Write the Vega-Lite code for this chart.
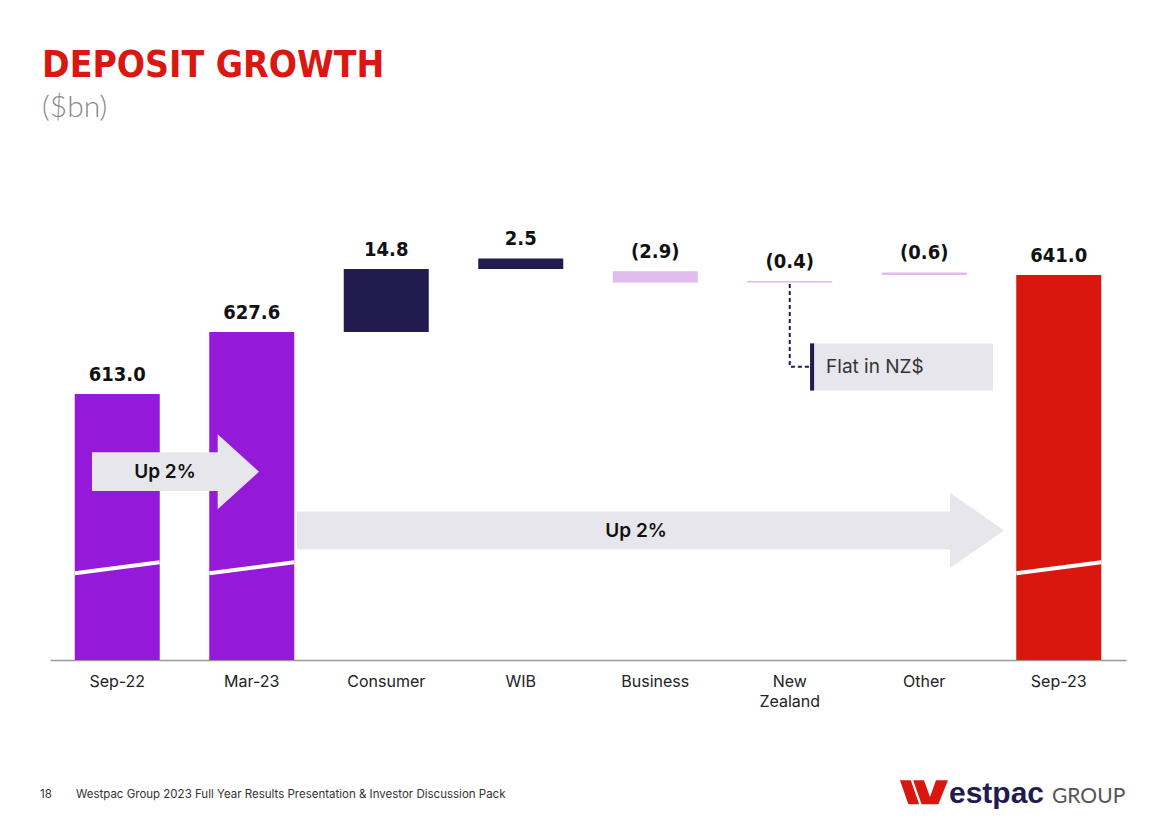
{
  "$schema": "https://vega.github.io/schema/vega-lite/v6.json",
  "width": 1076,
  "height": 510,
  "autosize": {"type": "none"},
  "padding": {"left": 50, "top": 150, "right": 42, "bottom": 165},
  "background": "white",
  "config": {"view": {"stroke": null}},
  "title": {
    "text": "DEPOSIT GROWTH",
    "subtitle": "($bn)",
    "anchor": "start",
    "frame": "group",
    "dx": -8,
    "offset": 26,
    "font": "Liberation Sans Narrow, DejaVu Sans Condensed, sans-serif",
    "fontSize": 37,
    "fontWeight": "bold",
    "color": "#DA1710",
    "subtitleFont": "Lato, sans-serif",
    "subtitleFontSize": 30,
    "subtitleFontWeight": 300,
    "subtitleColor": "#8A8A8A",
    "subtitlePadding": 8
  },
  "resolve": {"scale": {"x": "independent"}},
  "layer": [
    {
      "data": {
        "values": [
          {"cat": "Sep-22", "label": "613.0", "start": 0, "end": 613.0, "kind": "total"},
          {"cat": "Mar-23", "label": "627.6", "start": 0, "end": 627.6, "kind": "total"},
          {"cat": "Consumer", "label": "14.8", "start": 627.6, "end": 642.4, "kind": "increase"},
          {"cat": "WIB", "label": "2.5", "start": 642.4, "end": 644.9, "kind": "increase"},
          {"cat": "Business", "label": "(2.9)", "start": 641.9, "end": 639.2, "kind": "decrease"},
          {"cat": "New Zealand", "label": "(0.4)", "start": 639.6, "end": 639.2, "kind": "decrease"},
          {"cat": "Other", "label": "(0.6)", "start": 641.6, "end": 641.0, "kind": "decrease"},
          {"cat": "Sep-23", "label": "641.0", "start": 0, "end": 641.0, "kind": "final"}
        ]
      },
      "transform": [{"calculate": "max(datum.start, datum.end)", "as": "top"}],
      "encoding": {
        "x": {
          "field": "cat",
          "type": "nominal",
          "sort": null,
          "scale": {"paddingInner": 0.368, "paddingOuter": 0.184},
          "axis": {
            "title": null,
            "domainColor": "#999999",
            "domainWidth": 1.5,
            "ticks": false,
            "labelFont": "Inter, sans-serif",
            "labelFontSize": 16,
            "labelColor": "#222222",
            "labelPadding": 13,
            "labelAngle": 0,
            "labelLineHeight": 20,
            "labelExpr": "datum.value == 'New Zealand' ? ['New', 'Zealand'] : datum.value"
          }
        }
      },
      "layer": [
        {
          "mark": {"type": "bar", "clip": true},
          "encoding": {
            "y": {"field": "start", "type": "quantitative", "scale": {"domain": [550.4, 670.4], "zero": false, "nice": false}, "axis": null},
            "y2": {"field": "end"},
            "color": {
              "field": "kind",
              "type": "nominal",
              "scale": {"domain": ["total", "increase", "decrease", "final"], "range": ["#9519D8", "#211B4E", "#DFBBEE", "#D9170F"]},
              "legend": null
            }
          }
        },
        {
          "mark": {"type": "text", "baseline": "bottom", "dy": -9, "font": "Liberation Sans Narrow, DejaVu Sans Condensed, sans-serif", "fontWeight": "bold", "fontSize": 20, "color": "#111111"},
          "encoding": {
            "y": {"field": "top", "type": "quantitative", "scale": {"domain": [550.4, 670.4], "zero": false, "nice": false}, "axis": null},
            "text": {"field": "label"}
          }
        }
      ]
    },
    {
      "layer": [
        {
          "data": {"values": [{"x": 0.185, "x2": 0.815}, {"x": 1.185, "x2": 1.815}, {"x": 7.185, "x2": 7.815}]},
          "mark": {"type": "rule", "color": "white", "strokeWidth": 4},
          "encoding": {
            "x": {"field": "x", "type": "quantitative", "scale": {"domain": [0, 8], "nice": false, "zero": false}, "axis": null},
            "x2": {"field": "x2"},
            "y": {"datum": 570.8, "type": "quantitative", "scale": {"domain": [550.4, 670.4], "zero": false, "nice": false}, "axis": null},
            "y2": {"datum": 573.4}
          }
        },
        {
          "data": {"values": [{"note": "Up 2%"}]},
          "mark": {"type": "point", "shape": "M-1,-0.232L0.505,-0.232L0.505,-0.45L1,0L0.505,0.45L0.505,0.232L-1,0.232Z", "size": 27889, "filled": true, "fill": "#E7E6EC", "opacity": 1, "strokeWidth": 0},
          "encoding": {
            "x": {"datum": 0.933, "type": "quantitative", "scale": {"domain": [0, 8], "nice": false, "zero": false}, "axis": null},
            "y": {"datum": 594.7, "type": "quantitative", "axis": null}
          }
        },
        {
          "data": {"values": [{"note": "Up 2%"}]},
          "mark": {"type": "point", "shape": "M-1,-0.0532L0.847,-0.0532L0.847,-0.1066L1,0L0.847,0.1066L0.847,0.0532L-1,0.0532Z", "size": 499849, "filled": true, "fill": "#E7E6EC", "opacity": 1, "strokeWidth": 0},
          "encoding": {
            "x": {"datum": 4.465, "type": "quantitative", "axis": null},
            "y": {"datum": 580.9, "type": "quantitative", "axis": null}
          }
        },
        {
          "data": {"values": [{"note": "Up 2%", "q": 0.855, "v": 594.7}, {"note": "Up 2%", "q": 4.357, "v": 580.8}]},
          "mark": {"type": "text", "font": "Inter, sans-serif", "fontSize": 19, "fontWeight": 600, "color": "#111111", "baseline": "middle", "align": "center"},
          "encoding": {
            "x": {"field": "q", "type": "quantitative", "axis": null},
            "y": {"field": "v", "type": "quantitative", "axis": null},
            "text": {"field": "note"}
          }
        },
        {
          "data": {"values": [{"note": "Flat in NZ$"}]},
          "mark": {"type": "rect", "fill": "#E7E6EC"},
          "encoding": {
            "x": {"datum": 5.651, "type": "quantitative", "axis": null},
            "x2": {"datum": 7.011},
            "y": {"datum": 613.8, "type": "quantitative", "axis": null},
            "y2": {"datum": 624.9}
          }
        },
        {
          "data": {"values": [{"note": "Flat in NZ$"}]},
          "mark": {"type": "rect", "fill": "#211B4E"},
          "encoding": {
            "x": {"datum": 5.651, "type": "quantitative", "axis": null},
            "x2": {"datum": 5.681},
            "y": {"datum": 613.8, "type": "quantitative", "axis": null},
            "y2": {"datum": 624.9}
          }
        },
        {
          "data": {"values": [{"q": 5.5, "v": 638.9, "o": 1}, {"q": 5.5, "v": 619.4, "o": 2}, {"q": 5.651, "v": 619.4, "o": 3}]},
          "mark": {"type": "line", "color": "#211B4E", "strokeWidth": 2, "strokeDash": [4, 3]},
          "encoding": {
            "x": {"field": "q", "type": "quantitative", "axis": null},
            "y": {"field": "v", "type": "quantitative", "axis": null},
            "order": {"field": "o"}
          }
        },
        {
          "data": {"values": [{"note": "Flat in NZ$"}]},
          "mark": {"type": "text", "font": "Inter, sans-serif", "fontSize": 19, "color": "#333333", "baseline": "middle", "align": "left"},
          "encoding": {
            "x": {"datum": 5.77, "type": "quantitative", "axis": null},
            "y": {"datum": 619.3, "type": "quantitative", "axis": null},
            "text": {"field": "note"}
          }
        },
        {
          "data": {"values": [{"t": "18", "q": -0.074}, {"t": "Westpac Group 2023 Full Year Results Presentation & Investor Discussion Pack", "q": 0.193}]},
          "mark": {"type": "text", "font": "Inter, sans-serif", "fontSize": 11.5, "color": "#333333", "baseline": "middle", "align": "left"},
          "encoding": {
            "x": {"field": "q", "type": "quantitative", "axis": null},
            "y": {"datum": 518.6, "type": "quantitative", "axis": null},
            "text": {"field": "t"}
          }
        },
        {
          "data": {"values": [{"t": "W"}]},
          "mark": {"type": "point", "shape": "M-1,-0.5L-0.55,-0.5L-0.2,0.5L-0.65,0.5Z M-0.45,-0.5L0,-0.5L0.25,0.2L0.5,-0.5L1,-0.5L0.6,0.5L-0.1,0.5Z", "size": 2304, "filled": true, "fill": "#D9170F", "opacity": 1, "strokeWidth": 0},
          "encoding": {
            "x": {"datum": 6.498, "type": "quantitative", "axis": null},
            "y": {"datum": 519.3, "type": "quantitative", "axis": null}
          }
        },
        {
          "data": {"values": [{"t": "estpac"}]},
          "mark": {"type": "text", "font": "Liberation Sans, Arial, sans-serif", "fontSize": 30, "fontWeight": "bold", "color": "#1F1C4F", "baseline": "alphabetic", "align": "left"},
          "encoding": {
            "x": {"datum": 6.684, "type": "quantitative", "axis": null},
            "y": {"datum": 516.75, "type": "quantitative", "axis": null},
            "text": {"field": "t"}
          }
        },
        {
          "data": {"values": [{"t": "GROUP"}]},
          "mark": {"type": "text", "font": "Lato, sans-serif", "fontSize": 21, "color": "#555555", "baseline": "alphabetic", "align": "left"},
          "encoding": {
            "x": {"datum": 7.45, "type": "quantitative", "axis": null},
            "y": {"datum": 516.75, "type": "quantitative", "axis": null},
            "text": {"field": "t"}
          }
        }
      ]
    }
  ]
}
